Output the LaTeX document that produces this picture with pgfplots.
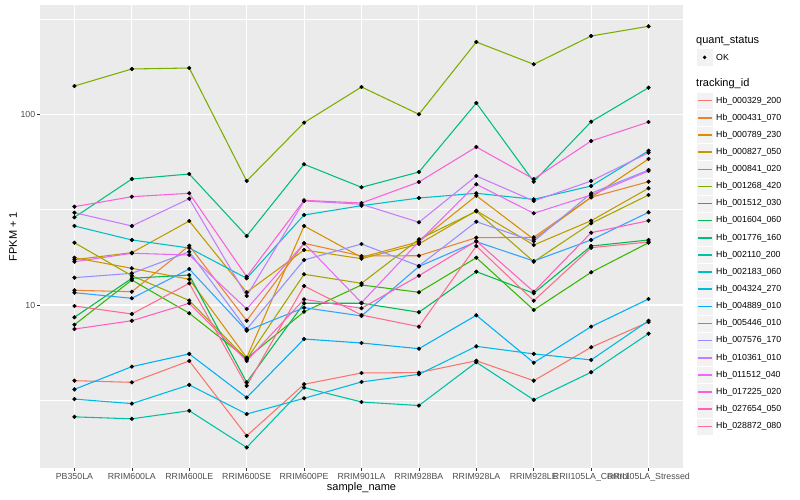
\documentclass[border=0pt]{standalone}
\usepackage{fontspec}
\setmainfont{Liberation Sans}
\usepackage{pgfplots}
\usepackage{pgfplotstable}
\pgfplotsset{compat=1.18}
\definecolor{ggbg}{HTML}{EBEBEB}
\definecolor{gg95}{HTML}{F2F2F2}
\definecolor{gg30}{HTML}{4D4D4D}
\definecolor{gg20}{HTML}{333333}
\definecolor{c1}{HTML}{F8766D}
\definecolor{c2}{HTML}{EA8331}
\definecolor{c3}{HTML}{D89000}
\definecolor{c4}{HTML}{C09B00}
\definecolor{c5}{HTML}{A3A500}
\definecolor{c6}{HTML}{7CAE00}
\definecolor{c7}{HTML}{39B600}
\definecolor{c8}{HTML}{00BB4E}
\definecolor{c9}{HTML}{00BF7D}
\definecolor{c10}{HTML}{00C1A3}
\definecolor{c11}{HTML}{00BFC4}
\definecolor{c12}{HTML}{00BAE0}
\definecolor{c13}{HTML}{00B0F6}
\definecolor{c14}{HTML}{35A2FF}
\definecolor{c15}{HTML}{9590FF}
\definecolor{c16}{HTML}{C77CFF}
\definecolor{c17}{HTML}{E76BF3}
\definecolor{c18}{HTML}{FA62DB}
\definecolor{c19}{HTML}{FF62BC}
\definecolor{c20}{HTML}{FF6C91}
% FPKM + 1 per sample (rows) and tracking_id (columns s1..s20)
\pgfplotstableread{
x s1 s2 s3 s4 s5 s6 s7 s8 s9 s10 s11 s12 s13 s14 s15 s16 s17 s18 s19 s20
0 4.01 11.94 17.70 17.28 21.21 140.7 7.88 8.62 28.84 2.59 25.96 3.21 3.61 11.60 13.91 30.48 16.87 32.77 7.48 9.88
1 3.93 11.74 15.57 18.81 14.24 172.8 13.52 13.80 45.78 2.53 21.92 3.04 4.75 10.84 14.66 25.96 18.67 36.98 8.27 8.97
2 5.09 20.46 13.64 27.57 10.56 174.9 9.05 14.36 48.63 2.79 19.90 3.81 5.54 15.44 19.03 36.10 18.29 38.53 10.21 12.99
3 2.06 8.27 5.29 11.66 5.19 44.7 5.24 3.93 23.00 1.79 13.80 2.68 3.27 7.33 7.46 11.15 9.53 14.07 5.09 3.77
4 3.84 21.06 25.96 19.43 14.49 90.4 9.22 10.21 54.68 3.69 29.65 3.24 6.63 9.68 17.22 35.11 21.06 35.40 10.71 12.58
5 4.40 18.07 17.79 17.49 12.99 139.1 12.73 10.21 41.41 3.10 33.17 3.95 6.32 8.76 20.89 33.74 10.28 34.27 9.61 8.86
6 4.42 18.13 21.47 20.89 22.11 100.0 11.66 9.16 49.82 2.97 36.40 4.33 5.90 15.92 16.02 27.15 21.47 44.16 14.24 7.70
7 5.10 22.54 37.43 31.22 30.99 239.4 17.70 14.95 114.6 5.01 38.53 6.07 8.83 21.47 27.34 47.48 42.95 67.38 21.65 20.38
8 4.01 22.65 22.11 20.63 16.87 182.9 9.41 11.52 44.32 3.18 35.84 5.54 4.98 17.01 21.58 35.11 30.26 45.78 11.74 10.53
9 6.00 36.71 36.71 27.67 26.82 257.4 14.84 20.38 91.46 4.44 42.07 5.15 7.70 21.92 38.53 44.68 37.74 72.44 23.94 19.97
10 8.14 44.32 58.30 40.93 37.74 289.4 21.21 21.92 137.9 7.07 64.44 8.27 10.75 30.62 51.05 62.90 50.44 91.11 27.67 21.40
}\data
\begin{document}
\begin{tikzpicture}
\path[use as bounding box] (0pt,0pt) rectangle (800pt,500pt);
\begin{axis}[
  at={(40pt,32pt)}, anchor=south west,
  scale only axis, width=643pt, height=463pt,
  xmin=-0.6, xmax=10.6,
  ymode=log, ymin=1.397, ymax=374.3,
  axis background/.style={fill=ggbg},
  axis line style={draw=none},
  xtick={0,...,10},
  xticklabels={PB350LA,RRIM600LA,RRIM600LE,RRIM600SE,RRIM600PE,RRIM901LA,RRIM928BA,RRIM928LA,RRIM928LE,RRII105LA\_Control,RRII105LA\_Stressed},
  ytick={10,100}, yticklabels={10,100},
  minor ytick={3.1623,31.623,316.23},
  xmajorgrids, ymajorgrids, yminorgrids,
  major grid style={white, line width=1.07pt},
  minor grid style={white, line width=0.53pt},
  tick align=outside, major tick length=2.75pt, minor tick length=0pt,
  xtick pos=left, ytick pos=left,
  tick style={gg20, line width=0.53pt},
  /pgf/number format/assume math mode=true,
  ticklabel style={font=\fontsize{8.8}{10}\selectfont, text=gg30},
  xticklabel style={inner sep=0pt, yshift=-2.6pt},
  yticklabel style={inner sep=0pt, xshift=-1.8pt},
]
\pgfplotsinvokeforeach{1,...,20}{
  \addplot[c#1, line width=1.07pt, no markers] table[x=x, y=s#1]{\data};
}
\pgfplotsinvokeforeach{1,...,20}{
  \addplot[only marks, mark=*, mark size=1.9pt, black] table[x=x, y=s#1]{\data};
}
\end{axis}
\node[font=\fontsize{11}{13}\selectfont] at (361.5pt,12pt) {sample\_name};
\node[font=\fontsize{11}{13}\selectfont, rotate=90] at (13pt,263.5pt) {FPKM + 1};
% legend
\node[anchor=west, inner sep=0pt, font=\fontsize{11}{13}\selectfont] at (696pt,459.3pt) {quant\_status};
\draw[white, fill=gg95] (696pt,434pt) rectangle (713.3pt,451.3pt);
\fill[black] (704.6pt,442.6pt) circle (1.9pt);
\node[anchor=west, inner sep=0pt, font=\fontsize{8.8}{10}\selectfont] at (716pt,442.6pt) {OK};
\node[anchor=west, inner sep=0pt, font=\fontsize{11}{13}\selectfont] at (696pt,416pt) {tracking\_id};
\foreach \n/\c [count=\i from 0] in {000329\_200/c1,000431\_070/c2,000789\_230/c3,000827\_050/c4,000841\_020/c5,001268\_420/c6,001512\_030/c7,001604\_060/c8,001776\_160/c9,002110\_200/c10,002183\_060/c11,004324\_270/c12,004889\_010/c13,005446\_010/c14,007576\_170/c15,010361\_010/c16,011512\_040/c17,017225\_020/c18,027654\_050/c19,028872\_080/c20}{
  \pgfmathsetmacro\yc{399.3-17.14*\i}
  \pgfmathsetmacro\ya{\yc-8.57}
  \pgfmathsetmacro\yb{\yc+8.57}
  \draw[white, fill=gg95] (696pt,\ya pt) rectangle (713.3pt,\yb pt);
  \draw[\c, line width=1.5pt] (698pt,\yc pt) -- (711.5pt,\yc pt);
  \node[anchor=west, inner sep=0pt, font=\fontsize{8.8}{10}\selectfont] at (716pt,\yc pt) {Hb\_\n};
}
\end{tikzpicture}
\end{document}
